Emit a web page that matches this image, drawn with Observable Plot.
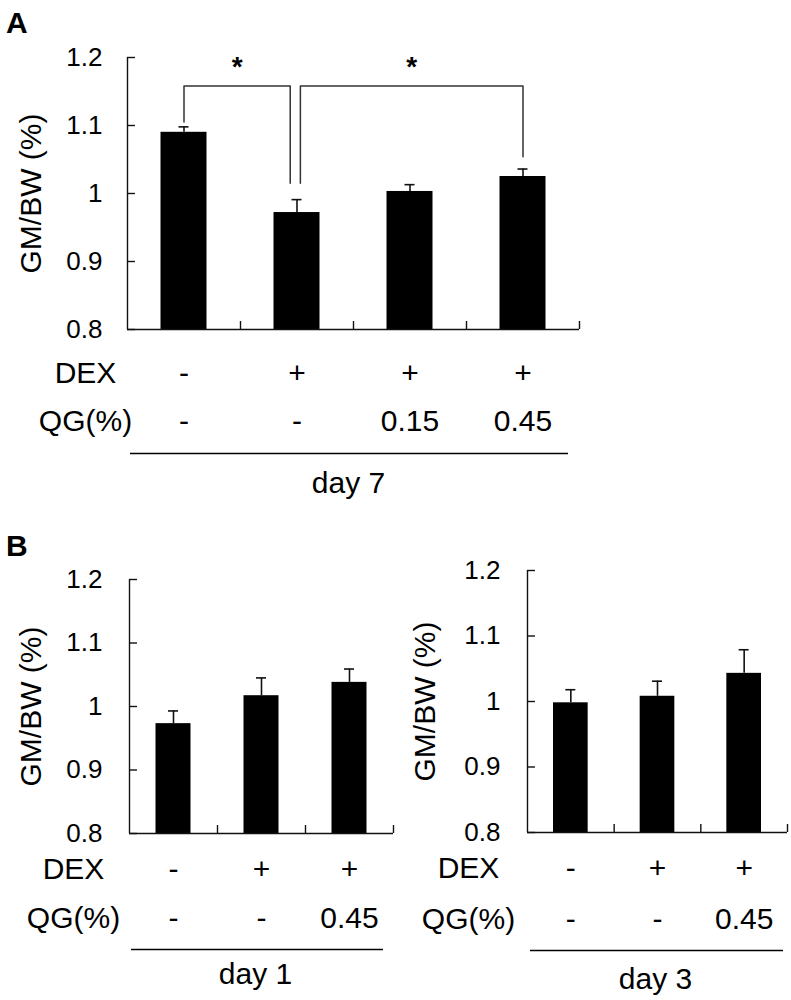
<!DOCTYPE html>
<html>
<head>
<meta charset="utf-8">
<script src="https://cdn.jsdelivr.net/npm/d3@7"></script>
<script src="https://cdn.jsdelivr.net/npm/@observablehq/plot@0.6"></script>
<style>
  html, body { margin: 0; padding: 0; background: #fff; }
  #root { position: relative; width: 791px; height: 1000px; background: #fff; font-family: "Liberation Sans", Arial, sans-serif; }
  .panel { position: absolute; }
  .letter { position: absolute; font-weight: bold; font-size: 30px; line-height: 1; color: #000; }
</style>
</head>
<body>
<div id="root">
  <div class="letter" style="left:6px; top:8px;">A</div>
  <div class="letter" style="left:6px; top:531px;">B</div>
</div>
<script>
// ---------- data ----------
const yTicks = [0.8, 0.9, 1, 1.1, 1.2];
const yTickLabels = ["0.8", "0.9", "1", "1.1", "1.2"];
const yTitle = "GM/BW (%)";
const rowLabels = ["DEX", "QG(%)"];

// Panel A (day 7)
const dexA = ["-", "+", "+", "+"];
const qgA = ["-", "-", "0.15", "0.45"];
const meanA = [1.090, 0.972, 1.003, 1.025];
const errA = [0.008, 0.019, 0.010, 0.011];
const dayA = "day 7";
// significance brackets: [group i, group j], bracket level, leg bottoms
const sigPairsA = [[0, 1], [1, 3]];
const sigLevelA = [1.158, 1.158];
const sigLegLowA = [[1.105, 1.015], [1.015, 1.054]];
const sigLegShiftA = [[0, -0.06], [0.03, 0]];
const sigMarkA = ["*", "*"];

// Panel B
const dexB = ["-", "+", "+"];
const qgB = ["-", "-", "0.45"];
const meanDay1 = [0.973, 1.017, 1.038];
const errDay1 = [0.020, 0.028, 0.021];
const meanDay3 = [0.998, 1.008, 1.043];
const errDay3 = [0.020, 0.023, 0.036];
const dayB1 = "day 1";
const dayB3 = "day 3";

const FONT = "Liberation Sans, Arial, sans-serif";

function panel(cfg) {
  const n = cfg.mean.length;
  const groups = d3.range(n).map(i => ({i, c: i + 0.5, m: cfg.mean[i], e: cfg.err[i], dex: cfg.dex[i], qg: cfg.qg[i]}));
  const ink = "#111";
  const marks = [
    Plot.rectY(groups, {x1: d => d.i, x2: d => d.i + 1, y1: 0.8, y2: d => d.m, fill: "#000",
      insetLeft: cfg.barInset, insetRight: cfg.barInset}),
    Plot.ruleX(groups, {x: d => d.c, y1: d => d.m, y2: d => d.m + d.e, stroke: ink, strokeWidth: 1.6}),
    Plot.ruleY(groups, {y: d => d.m + d.e, x1: d => d.c, x2: d => d.c, insetLeft: -5, insetRight: -5, stroke: ink, strokeWidth: 1.6}),
    Plot.ruleX([0], {y1: 0.8, y2: 1.2, stroke: ink, strokeWidth: 1.4}),
    Plot.ruleY([0.8], {x1: 0, x2: n, stroke: ink, strokeWidth: 1.4}),
    Plot.ruleY(yTicks, {y: d => d, x1: 0, x2: 0, insetRight: -8, stroke: ink, strokeWidth: 1.4}),
    Plot.ruleX(d3.range(1, n + 1), {x: d => d, y1: 0.8, y2: 0.8, insetTop: -8, stroke: ink, strokeWidth: 1.4}),
    Plot.text(yTicks, {y: d => d, text: (d, i) => yTickLabels[i], frameAnchor: "left", textAnchor: "end",
      dx: cfg.tickDx, fontSize: 26, fill: "#000"}),
    Plot.text([yTitle], {frameAnchor: "left", textAnchor: "middle", dx: cfg.titleDx, rotate: -90, fontSize: 30, fill: "#000"}),
    Plot.text([rowLabels[0]], {frameAnchor: "bottom-left", dx: cfg.rowDx, dy: cfg.dexDy, lineAnchor: "bottom", textAnchor: "middle", fontSize: 30, fill: "#000"}),
    Plot.text([rowLabels[1]], {frameAnchor: "bottom-left", dx: cfg.rowDx, dy: cfg.qgDy, lineAnchor: "bottom", textAnchor: "middle", fontSize: 30, fill: "#000"}),
    Plot.text(groups, {x: d => d.c, text: d => d.dex, frameAnchor: "bottom", dy: cfg.dexDy, lineAnchor: "bottom", fontSize: 30, fill: "#000"}),
    Plot.text(groups, {x: d => d.c, text: d => d.qg, frameAnchor: "bottom", dy: cfg.qgDy, lineAnchor: "bottom", fontSize: 30, fill: "#000"}),
    Plot.ruleY([0.8], {x1: 0, x2: n, dy: cfg.lineDy, insetLeft: cfg.lineInsetL, insetRight: cfg.lineInsetR, stroke: "#000", strokeWidth: 1.6}),
    Plot.text([cfg.day], {x: n / 2, frameAnchor: "bottom", dx: cfg.dayDx, dy: cfg.dayDy, lineAnchor: "bottom", fontSize: 30, fill: "#000"})
  ];
  if (cfg.sig) {
    const paths = [];
    const stars = [];
    cfg.sig.pairs.forEach(([a, b], k) => {
      const xa = a + 0.5 + cfg.sig.shift[k][0];
      const xb = b + 0.5 + cfg.sig.shift[k][1];
      const lv = cfg.sig.level[k];
      const [la, lb] = cfg.sig.low[k];
      [[xa, la], [xa, lv], [xb, lv], [xb, lb]].forEach(([x, y]) => paths.push({k, x, y}));
      stars.push({x: (xa + xb) / 2, y: lv, t: cfg.sig.mark[k]});
    });
    marks.push(Plot.line(paths, {x: "x", y: "y", z: "k", stroke: "#333", strokeWidth: 1.5, curve: "linear"}));
    marks.push(Plot.text(stars, {x: "x", y: "y", text: "t", lineAnchor: "bottom", dy: -10, fontSize: 28, fontWeight: "bold", fill: "#000"}));
  }
  return Plot.plot({
    width: cfg.width,
    height: cfg.height,
    marginLeft: cfg.ml, marginRight: cfg.mr, marginTop: cfg.mt, marginBottom: cfg.mb,
    style: {fontFamily: FONT, background: "transparent", overflow: "visible"},
    x: {type: "linear", domain: [0, n], axis: null},
    y: {type: "linear", domain: [0.8, 1.2], axis: null},
    marks
  });
}

const root = document.getElementById("root");
function place(svg, left, top) {
  const d = document.createElement("div");
  d.className = "panel";
  d.style.left = left + "px";
  d.style.top = top + "px";
  d.appendChild(svg);
  root.appendChild(d);
}

place(panel({
  mean: meanA, err: errA, dex: dexA, qg: qgA, day: dayA,
  width: 600, height: 510, ml: 127, mr: 21, mt: 57, mb: 181,
  barInset: 33.5, tickDx: -25, titleDx: -96, rowDx: -42,
  dexDy: 53, qgDy: 101, lineDy: 124, lineInsetL: 3, lineInsetR: 11, dayDx: -5, dayDy: 163,
  sig: {pairs: sigPairsA, level: sigLevelA, low: sigLegLowA, shift: sigLegShiftA, mark: sigMarkA}
}), 0, 0);

place(panel({
  mean: meanDay1, err: errDay1, dex: dexB, qg: qgB, day: dayB1,
  width: 400, height: 480, ml: 129, mr: 7, mt: 59, mb: 167,
  barInset: 26.5, tickDx: -27, titleDx: -98, rowDx: -56,
  dexDy: 45, qgDy: 94, lineDy: 116, lineInsetL: 2, lineInsetR: 10, dayDx: -6, dayDy: 150
}), 0, 520);

place(panel({
  mean: meanDay3, err: errDay3, dex: dexB, qg: qgB, day: dayB3,
  width: 391, height: 480, ml: 127, mr: 4, mt: 50, mb: 168,
  barInset: 26, tickDx: -27, titleDx: -102, rowDx: -59,
  dexDy: 45, qgDy: 96, lineDy: 118, lineInsetL: 3, lineInsetR: 4, dayDx: -2, dayDy: 156
}), 400, 520);
</script>
</body>
</html>
